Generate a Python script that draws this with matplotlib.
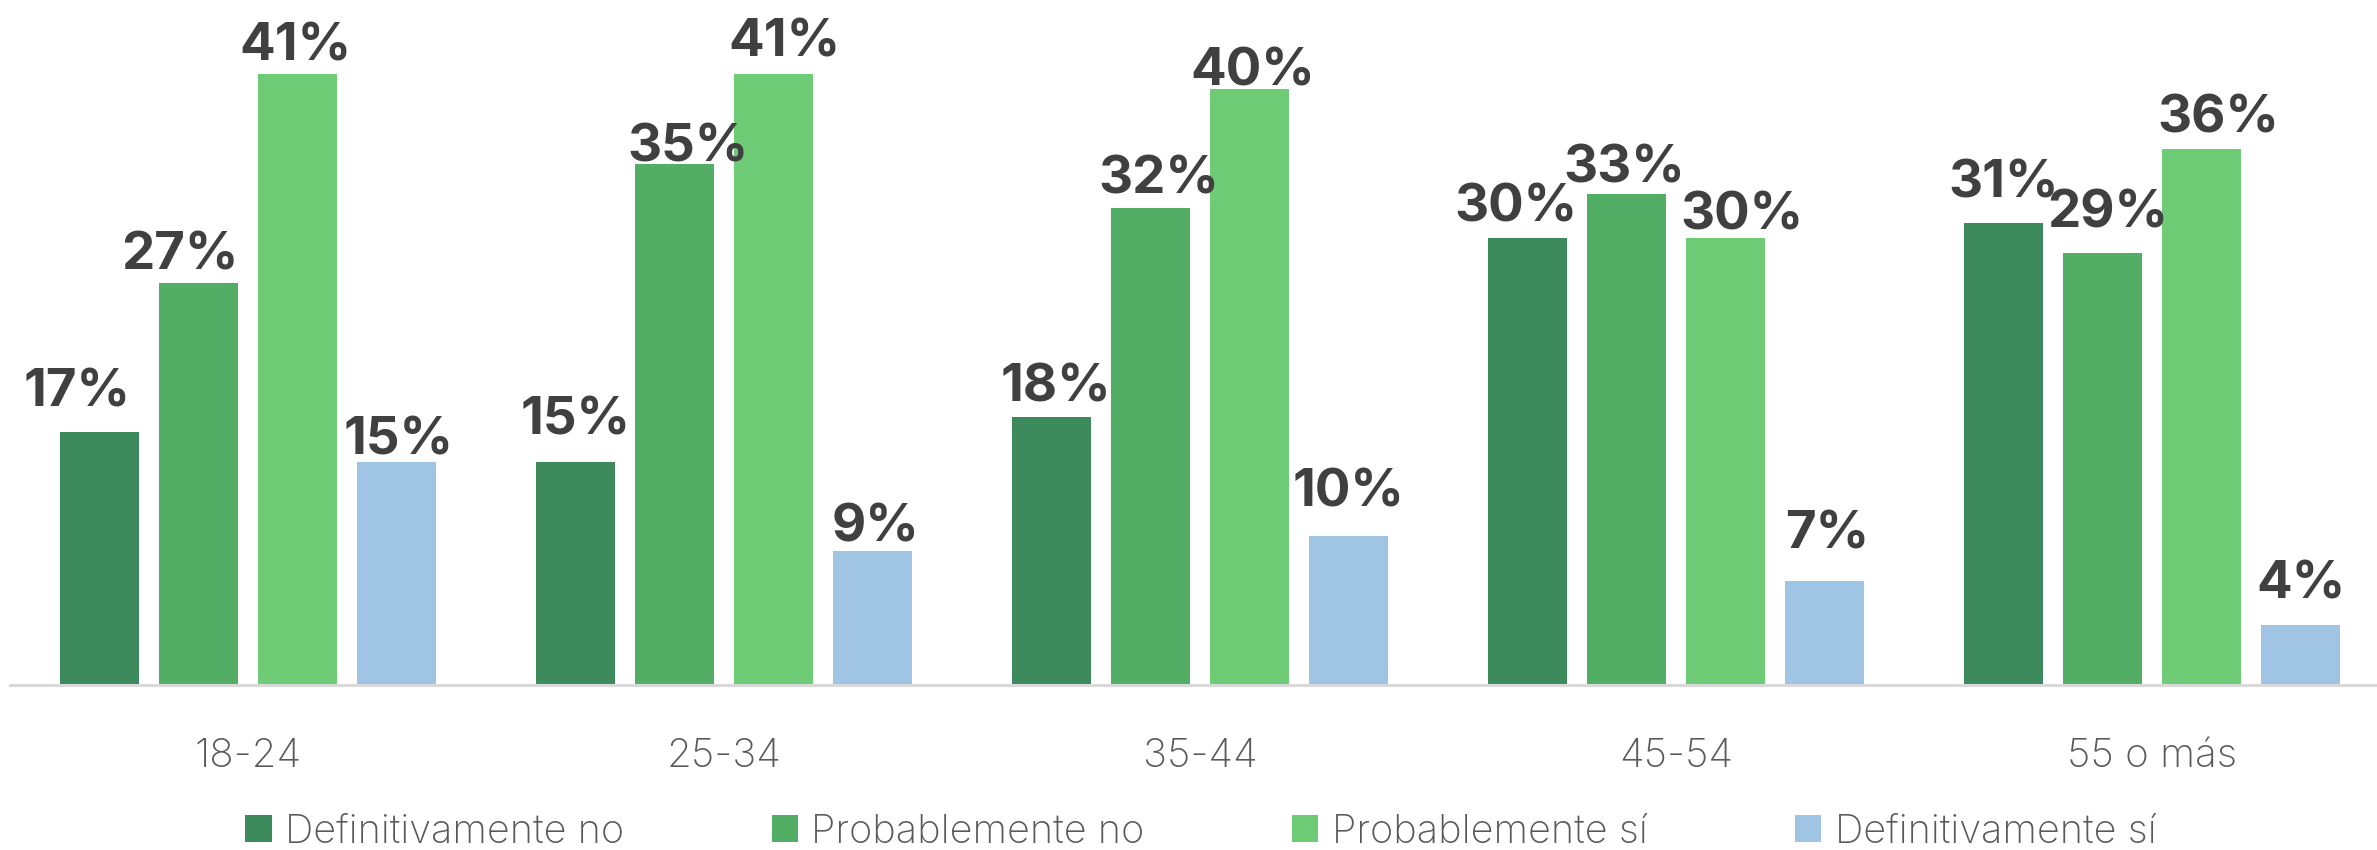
import matplotlib
matplotlib.use("Agg")
import matplotlib.pyplot as plt
import numpy as np
from matplotlib.patches import Patch

categories = ["18-24", "25-34", "35-44", "45-54", "55 o más"]
series_names = ["Definitivamente no", "Probablemente no", "Probablemente sí", "Definitivamente sí"]
def_no = [17, 15, 18, 30, 31]
prob_no = [27, 35, 32, 33, 29]
prob_si = [41, 41, 40, 30, 36]
def_si = [15, 9, 10, 7, 4]

colors = ["#3D8A5C", "#52AE65", "#6ECC76", "#A0C4E4"]

# data-label nudges (points), per series and category
label_dx = [
    [-16, 0, 3.5, -8, 0],
    [-13.5, 10, 6, -1.5, 3.5],
    [-1.5, 8, 2, 11.5, 12],
    [1.5, 2.5, 0, 2, 0],
]
label_dy = [
    [18, 19.5, 11, 12, 18.5],
    [10, 1.5, 11, 8, 18.5],
    [10, 13, 3, 6.5, 12],
    [5, 6.5, 21, 23, 19.5],
]

W, H = 2377, 850
fig = plt.figure(figsize=(W / 100, H / 100), dpi=100)
ax = fig.add_axes([10 / W, (H - 685) / H, 2380 / W, 685 / H])

x = np.arange(len(categories))
step = 0.208
bw = 0.164
series = [def_no, prob_no, prob_si, def_si]
for i, (vals, col) in enumerate(zip(series, colors)):
    pos = x + (i - 1.5) * step
    bars = ax.bar(pos, vals, width=bw, color=col, zorder=2)
    for j, (b, v) in enumerate(zip(bars, vals)):
        ax.annotate(f"{v}%", (b.get_x() + b.get_width() / 2, b.get_height()),
                    xytext=(label_dx[i][j], label_dy[i][j]), textcoords="offset points",
                    ha="center", va="baseline", fontsize=38, fontweight="bold",
                    family="Inter", color="#404040")

ax.set_xlim(-0.5, len(categories) - 0.5)
ax.set_ylim(0, 46)
ax.set_xticks(x)
ax.set_xticklabels(categories, fontsize=29, color="#595959", family="Inter", fontweight="light")
ax.tick_params(axis="x", length=0, pad=38)
ax.set_yticks([])
for s in ["top", "right", "left"]:
    ax.spines[s].set_visible(False)
ax.spines["bottom"].set_color("#D9D9D9")
ax.spines["bottom"].set_linewidth(2.2)

handles = [Patch(facecolor=c, edgecolor="none") for c in colors]
fig.legend(handles, series_names, loc="center", bbox_to_anchor=(1201 / W, (H - 832) / H),
           ncol=4, frameon=False, prop={"family": "Inter", "size": 28.5, "weight": "light"},
           labelcolor="#595959", handlelength=0.66, handleheight=0.66, handletextpad=0.34,
           columnspacing=3.73, borderpad=0, borderaxespad=0)

fig.savefig("out.png", dpi=100)
